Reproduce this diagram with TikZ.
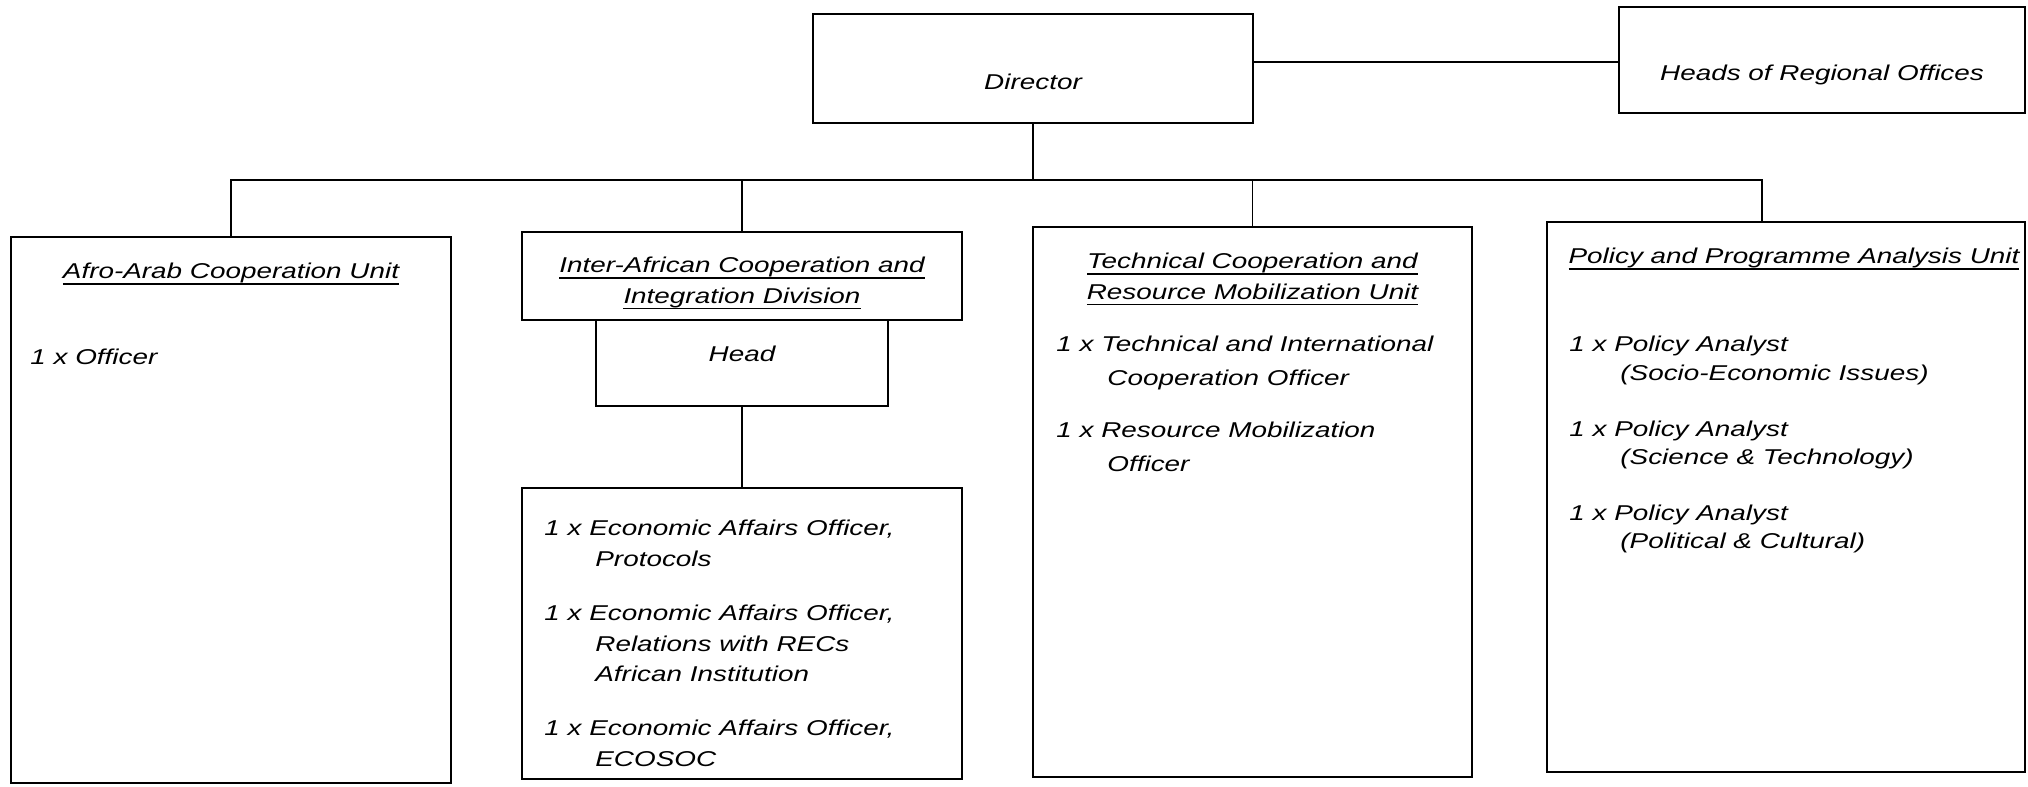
\documentclass[tikz,border=0pt]{standalone}
\usepackage{fontspec}
\setmainfont{Liberation Sans}[FakeStretch=1.3]
\usetikzlibrary{positioning}
\newcommand{\subline}{\hspace*{5.1mm}}
\newcommand{\undl}[1]{\setbox0\hbox{#1}\rlap{\rule[-1.6pt]{\wd0}{0.55pt}}\box0}
\begin{document}
\begin{tikzpicture}[
        x                       = 0.1mm,
        y                       = -0.1mm,
        every node/.style       = {font=\fontsize{6.1pt}{8.5pt}\selectfont\itshape},
        box/.style              = {draw, line width=0.75pt, inner sep=0pt},
        link/.style             = {draw, line width=0.45pt},
        title/.style            = {align=center, inner sep=0pt, font=\fontsize{6.1pt}{8.8pt}\selectfont\itshape},
        staff/.style            = {align=left, inner sep=0pt, anchor=north west, font=\fontsize{6.1pt}{#1}\selectfont\itshape},
        staff/.default          = 8.6pt,
        % minimum height        = 10mm,
    ]
    \useasboundingbox (0,0) rectangle (2028,786);

    % top row
    \node[box, minimum width=44mm, text height=7.5mm, text depth=3.4mm] (dir) at (1033,68.5) {Director};
    \node[box, minimum width=40.6mm, text height=7.35mm, text depth=3.25mm] (heads) at (1822,60) {Heads of Regional Offices};

    % units
    \node[box, minimum width=44mm, minimum height=54.6mm] (afro) at (231,510) {};
    \node[box, minimum width=44mm, minimum height=8.8mm] (inter) at (742,276) {};
    \node[box, minimum width=29.2mm, text height=4.1mm, text depth=4.5mm] (head) at (742,363) {Head};
    \node[box, minimum width=44mm, minimum height=29.1mm] (eco) at (742,633.5) {};
    \node[box, minimum width=43.9mm, minimum height=55mm] (tech) at (1252.5,502) {};
    \node[box, minimum width=47.8mm, minimum height=55mm] (policy) at (1786,497) {};

    \node[title, below=2.7mm of afro.north] (afrotitle) {\undl{Afro-Arab Cooperation Unit}};
    \node[title, below=2.6mm of inter.north] (intertitle)
        {\undl{Inter-African Cooperation and}\\\undl{Integration Division}};
    \node[title, below=2.7mm of tech.north] (techtitle)
        {\undl{Technical Cooperation and}\\\undl{Resource Mobilization Unit}};
    \node[title, below=2.7mm of policy.north, xshift=0.8mm] (policytitle)
        {\undl{Policy and Programme Analysis Unit}};

    \node[staff] (afrostaff) at ([shift={(2mm,-11.3mm)}]afro.north west) {1 x Officer};
    \node[staff=8.65pt] (ecostaff) at ([shift={(2.3mm,-3.3mm)}]eco.north west)
        {1 x Economic Affairs Officer,\\\subline Protocols\\[2.4mm]
         1 x Economic Affairs Officer,\\\subline Relations with RECs\\\subline African Institution\\[2.4mm]
         1 x Economic Affairs Officer,\\\subline ECOSOC};
    \node[staff=9.6pt] (techstaff) at ([shift={(2.4mm,-11mm)}]tech.north west)
        {1 x Technical and International\\\subline Cooperation Officer\\[1.8mm]
         1 x Resource Mobilization\\\subline Officer};
    \node[staff=8pt] (policystaff) at ([shift={(2.3mm,-11.5mm)}]policy.north west)
        {1 x Policy Analyst\\\subline(Socio-Economic Issues)\\[2.8mm]
         1 x Policy Analyst\\\subline(Science \& Technology)\\[2.8mm]
         1 x Policy Analyst\\\subline(Political \& Cultural)};

    % connectors
    \coordinate (bus) at (1033,180);
    \draw[link] ([yshift=0.65mm]dir.east) coordinate (dirside) -- (dirside -| heads.west);
    \draw[link] (dir) -- (bus);
    \draw[link] (afro.north) |- (bus) -| ([xshift=-2.4mm]policy.north);
    \draw[link] (inter) -- (inter |- bus);
    \draw[link] (tech) -- (tech |- bus);
    \draw[link] (head) -- (eco);
\end{tikzpicture}
\end{document}
